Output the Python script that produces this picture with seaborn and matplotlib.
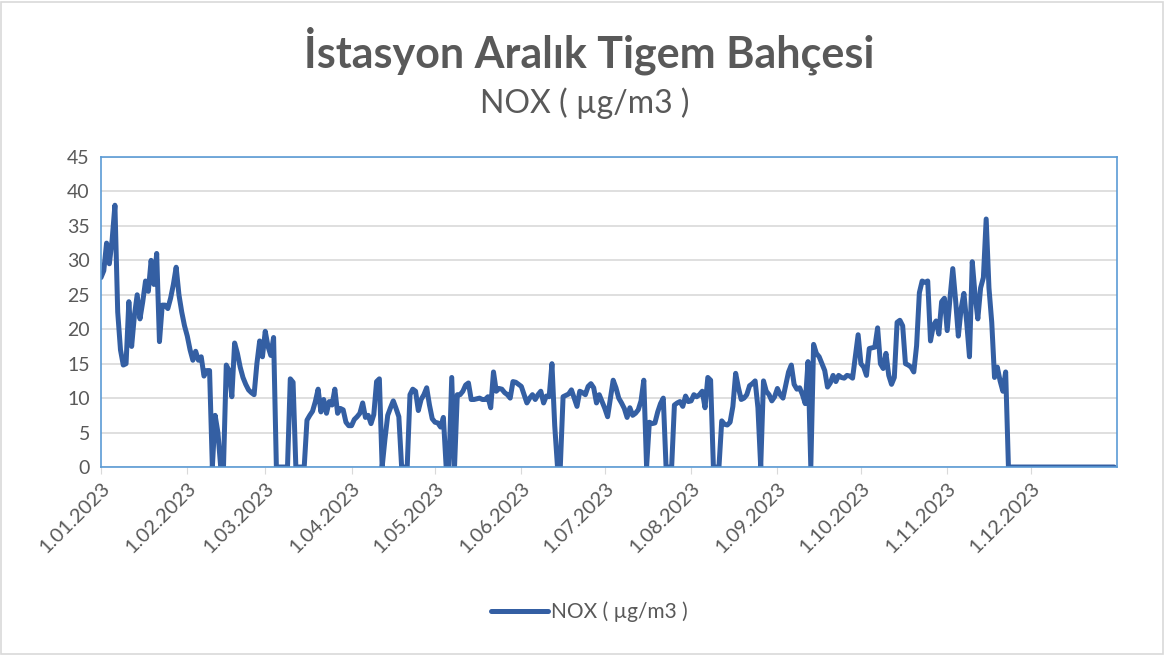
import pandas as pd
import numpy as np
import matplotlib.pyplot as plt
import matplotlib.dates as mdates
from matplotlib.patches import Rectangle
import seaborn as sns

# daily NOX values, one list per month
jan = [27.5, 28.5, 32.5, 29.5, 33, 38, 22.5, 17, 14.8, 15, 24, 17.5, 22, 25, 21.5, 24,
       27, 25.5, 30, 26.5, 31, 18.2, 23.5, 23.5, 23, 24.5, 26.5, 29, 25, 22.5, 20.5]
feb = [19, 17, 15.5, 16.8, 15.5, 16, 13.2, 14, 14, 0, 7.5, 5, 0, 0, 14.8, 14, 10.2,
       18, 16.5, 14.5, 13, 12, 11.2, 10.8, 10.5, 15, 18.3, 16]
mar = [19.7, 17.5, 16.2, 18.8, 0, 0, 0, 0, 0, 12.8, 12.3, 0, 0, 0, 0, 6.8, 7.5, 8.1,
       9.5, 11.3, 8, 9.8, 7.8, 9.5, 9, 11.3, 7.8, 8.5, 8.3, 6.5, 6]
apr = [6, 6.9, 7.3, 7.8, 9.3, 7.2, 7.5, 6.3, 7.6, 12.4, 12.8, 0, 4, 7.5, 8.6, 9.6,
       8.5, 7.3, 0, 0, 0, 10.5, 11.3, 11, 8.2, 9.8, 10.5, 11.5, 9, 7]
may = [6.5, 6.4, 5.8, 7.2, 0, 0, 13, 0, 10.5, 10.5, 11, 11.9, 12.2, 9.8, 9.8, 9.9,
       10, 9.8, 9.8, 10.2, 8.6, 13.8, 11, 11.4, 11.3, 10.8, 10.5, 10, 12.4, 12.3, 12]
jun = [11.7, 10.5, 9.3, 10, 10.5, 9.8, 10.5, 11, 9.3, 10.3, 10.2, 15, 6, 0, 0, 10.2,
       10.4, 10.6, 11.2, 10, 8.8, 11, 10.8, 10.5, 11.7, 12.1, 11.5, 9.3, 10.5, 9.5]
jul = [8.5, 7.3, 10, 12.6, 11.5, 10, 9.3, 8.5, 7.2, 8.6, 7.5, 7.8, 8.3, 9.6, 12.6, 0,
       6.5, 6.3, 6.4, 8, 9.2, 10, 0, 0, 0, 9, 9.3, 9.5, 8.8, 10.3, 9.5]
aug = [9.6, 10.5, 10.2, 10.5, 11, 8.6, 13, 12.6, 0, 0, 0, 6.7, 6.2, 6.1, 6.5, 8.8,
       13.6, 11.5, 9.8, 10, 10.5, 11.8, 12.1, 12.5, 8.6, 0, 12.5, 11, 10.5, 9.6, 10.2]
sep = [11.4, 10.5, 10, 11.9, 13.8, 14.8, 12, 11.3, 11.5, 10.5, 9.2, 15.3, 0, 17.8,
       16.5, 16, 15, 14, 11.6, 12.2, 13.3, 12.4, 13.3, 13, 12.9, 13.3, 13.2, 12.9, 16, 19.2]
oct_ = [15, 14.5, 13.3, 17.2, 17.3, 17.4, 20.2, 15, 14.3, 16.5, 13.3, 12, 13, 21, 21.3,
        20.5, 15, 14.8, 14.5, 13.8, 17.6, 25.3, 27, 26.8, 27, 18.3, 20.5, 21.2, 19.3, 24, 24.5]
nov = [19.8, 24.5, 28.8, 24.3, 19, 23, 25.2, 21, 16, 29.8, 25, 21.5, 26, 27.5, 36, 26,
       21, 13, 14.5, 12.5, 11, 13.8, 0, 0, 0, 0, 0, 0, 0, 0]
dec = [0] * 31

tick_labels = ['1.01.2023', '1.02.2023', '1.03.2023', '1.04.2023', '1.05.2023',
               '1.06.2023', '1.07.2023', '1.08.2023', '1.09.2023', '1.10.2023',
               '1.11.2023', '1.12.2023']
series_name = 'NOX ( µg/m3 )'
title = 'İstasyon Aralık Tigem Bahçesi'

values = jan + feb + mar + apr + may + jun + jul + aug + sep + oct_ + nov + dec
data = pd.DataFrame({'date': pd.date_range('2023-01-01', periods=len(values), freq='D'),
                     'nox': values})

sns.set_style('white')
plt.rcParams['font.family'] = ['Lato', 'DejaVu Sans']

fig = plt.figure(figsize=(11.65, 6.55), dpi=100)
ax = fig.add_axes([0.0867, 0.287, 0.8721, 0.4733])

sns.lineplot(data=data, x='date', y='nox', ax=ax, color='#345FA3', linewidth=3.6,
             label=series_name, legend=False)
ax.lines[0].set_solid_joinstyle('round')
ax.lines[0].set_solid_capstyle('round')

ax.set_ylim(0, 45)
ax.set_yticks(range(0, 46, 5))
ax.set_xlim(pd.Timestamp('2023-01-01'), pd.Timestamp('2024-01-01'))
ticks = pd.date_range('2023-01-01', periods=12, freq='MS')
ax.set_xticks(ticks)
ax.set_xticklabels(tick_labels, rotation=45, ha='right', rotation_mode='anchor')
ax.grid(axis='y', color='#D9D9D9', linewidth=1.2)
ax.set_axisbelow(True)
ax.set_xlabel('')
ax.set_ylabel('')
ax.tick_params(axis='y', length=0, labelsize=14, labelcolor='#595959', pad=8)
ax.tick_params(axis='x', length=5, color='#D9D9D9', labelsize=14.5, labelcolor='#595959',
               pad=4, bottom=True)
for s in ax.spines.values():
    s.set_color('#5B9BD5')
    s.set_linewidth(1.2)

fig.text(0.506, 0.922, title, ha='center', va='center', fontsize=31,
         fontweight='bold', color='#595959')
fig.text(0.502, 0.843, series_name, ha='center', va='center', fontsize=23,
         color='#595959')

fig.legend(handles=ax.lines[:1], labels=[series_name], loc='center',
           bbox_to_anchor=(0.506, 0.066), frameon=False, fontsize=15,
           handlelength=2.7, handletextpad=0.15, labelcolor='#595959')

fig.patches.append(Rectangle((0.001, 0.002), 0.997, 0.995, transform=fig.transFigure,
                             fill=False, edgecolor='#D9D9D9', linewidth=1.2))

fig.savefig('out.png', dpi=100)
